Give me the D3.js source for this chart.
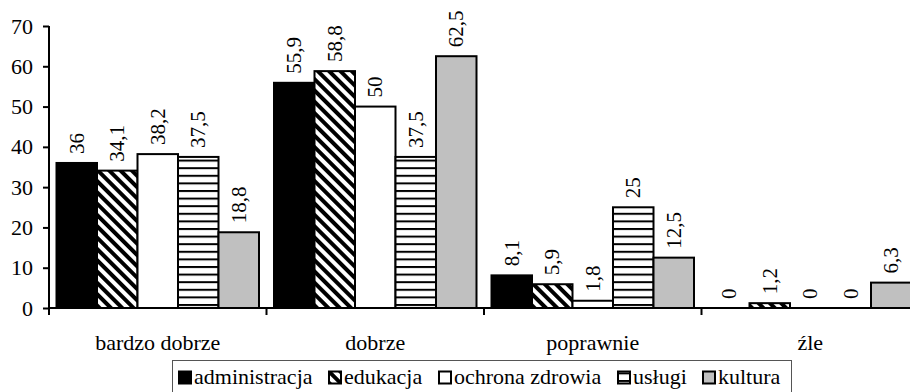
<!DOCTYPE html>
<html>
<head>
<meta charset="utf-8">
<script src="https://cdn.jsdelivr.net/npm/d3@7"></script>
</head>
<body style="margin:0;padding:0;background:#fff">
<svg id="chart" width="910" height="392" style="display:block"></svg>
<script>
// Ratings by sector (percent)
const categories = ["bardzo dobrze", "dobrze", "poprawnie", "źle"];
const seriesNames = ["administracja", "edukacja", "ochrona zdrowia", "usługi", "kultura"];
const administracja = [36, 55.9, 8.1, 0];
const edukacja = [34.1, 58.8, 5.9, 1.2];
const ochronaZdrowia = [38.2, 50, 1.8, 0];
const uslugi = [37.5, 37.5, 25, 0];
const kultura = [18.8, 62.5, 12.5, 6.3];
const yTicks = [0, 10, 20, 30, 40, 50, 60, 70];

const seriesValues = [administracja, edukacja, ochronaZdrowia, uslugi, kultura];
const fills = ["#000", "url(#diag)", "#fff", "url(#horiz)", "#c0c0c0"];
const FONT = "'Liberation Serif'";

const svg = d3.select("#chart");

// Fill patterns
const defs = svg.append("defs");
const diag = defs.append("pattern")
  .attr("id", "diag").attr("patternUnits", "userSpaceOnUse")
  .attr("width", 8).attr("height", 8)
  .attr("patternTransform", "rotate(-45)");
diag.append("rect").attr("width", 8).attr("height", 8).attr("fill", "#fff");
diag.append("rect").attr("width", 4).attr("height", 8).attr("fill", "#000");

const horiz = defs.append("pattern")
  .attr("id", "horiz").attr("patternUnits", "userSpaceOnUse")
  .attr("width", 8).attr("height", 7.6);
horiz.append("rect").attr("width", 8).attr("height", 7.6).attr("fill", "#fff");
horiz.append("rect").attr("y", 0).attr("width", 8).attr("height", 2).attr("fill", "#000");

// Scales
const x0 = d3.scaleBand().domain(categories).range([49, 919]).padding(0);
const x1 = d3.scaleBand().domain(seriesNames)
  .range([7.5, x0.bandwidth() - 7.5]).padding(0);
const y = d3.scaleLinear().domain([0, 70]).range([308, 26]);

// Bars
const groups = svg.append("g").selectAll("g")
  .data(categories)
  .join("g")
  .attr("transform", d => `translate(${x0(d)},0)`);

groups.selectAll("rect")
  .data((c, ci) => seriesNames.map((s, si) => ({ s, si, v: seriesValues[si][ci] })))
  .join("rect")
  .attr("x", d => x1(d.s))
  .attr("y", d => y(d.v))
  .attr("width", x1.bandwidth())
  .attr("height", d => y(0) - y(d.v))
  .attr("fill", d => fills[d.si])
  .attr("stroke", "#000")
  .attr("stroke-width", 2);

// Value labels, rotated
groups.selectAll("text")
  .data((c, ci) => seriesNames.map((s, si) => ({ s, si, v: seriesValues[si][ci] })))
  .join("text")
  .attr("transform", d => `translate(${x1(d.s) + x1.bandwidth() / 2},${y(d.v) - 9}) rotate(-90)`)
  .attr("dy", "0.33em")
  .attr("font-size", 21)
  .style("font-family", FONT)
  .attr("fill", "#000")
  .text(d => String(d.v).replace(".", ","));

// Y axis
const yAxis = svg.append("g")
  .attr("transform", "translate(49,0)")
  .call(d3.axisLeft(y).tickValues(yTicks).tickSize(6).tickPadding(10).tickFormat(d3.format("d")));
yAxis.select(".domain").attr("d", `M0,${y(70)}V${y(0)}`).attr("stroke-width", 2);
yAxis.selectAll(".tick line").attr("stroke-width", 2);
yAxis.selectAll("text").attr("font-size", 22).style("font-family", FONT).attr("fill", "#000");

// X axis with category labels
const xAxis = svg.append("g")
  .attr("transform", `translate(0,${y(0)})`)
  .call(d3.axisBottom(x0).tickSize(0).tickPadding(26));
xAxis.select(".domain").attr("d", "M49,0H919").attr("stroke-width", 2);
xAxis.selectAll("text").attr("font-size", 22).style("font-family", FONT).attr("fill", "#000");

// Category boundary ticks
svg.append("g").selectAll("line")
  .data(categories)
  .join("line")
  .attr("x1", d => x0(d)).attr("x2", d => x0(d))
  .attr("y1", y(0)).attr("y2", y(0) + 7)
  .attr("stroke", "#000").attr("stroke-width", 2);

// Legend
const legend = svg.append("g");
legend.append("rect")
  .attr("x", 172.5).attr("y", 360.5)
  .attr("width", 619).attr("height", 40)
  .attr("fill", "#fff").attr("stroke", "#555").attr("stroke-width", 1);

const legendX = [178, 328, 438, 617, 702];
seriesNames.forEach((name, i) => {
  const g = legend.append("g").attr("transform", `translate(${legendX[i]},0)`);
  g.append("rect")
    .attr("x", 1).attr("y", 371.5).attr("width", 12).attr("height", 12)
    .attr("fill", fills[i]).attr("stroke", "#000").attr("stroke-width", 2);
  g.append("text")
    .attr("x", 16).attr("y", 384)
    .attr("font-size", 22).style("font-family", FONT).attr("fill", "#000")
    .text(name);
});
</script>
</body>
</html>
